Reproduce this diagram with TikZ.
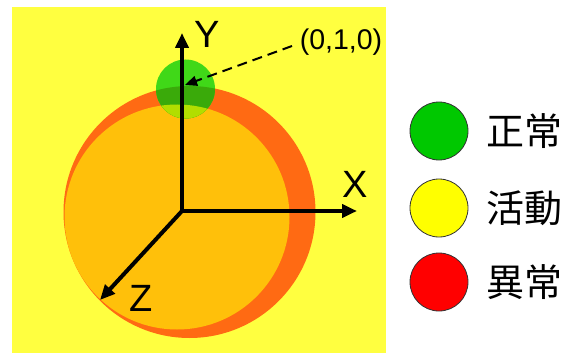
\documentclass[tikz,border=0pt]{standalone}
\usepackage{fontspec}
\setmainfont{Liberation Sans}
\newfontfamily\cjk{Noto Sans CJK JP}
\usetikzlibrary{arrows.meta}
\definecolor{bgyellow}{RGB}{255,255,64}
\definecolor{ringorange}{RGB}{255,106,19}
\definecolor{innerorange}{RGB}{255,192,10}
\definecolor{greenA}{RGB}{64,216,24}
\definecolor{greenB}{RGB}{58,170,10}
\definecolor{greenC}{RGB}{178,222,0}
\definecolor{lgreen}{RGB}{0,200,0}
\definecolor{lyellow}{RGB}{255,255,0}
\definecolor{lred}{RGB}{255,0,0}
\tikzset{
  axis/.style={line width=4pt,-{Triangle[length=15pt,width=13pt]}},
  axlabel/.style={font=\fontsize{38}{38}\selectfont,inner sep=0pt},
  dot/.style={circle,draw=black!80,line width=0.8pt,minimum size=58pt,inner sep=0pt},
  legtext/.style={font=\cjk\fontsize{38}{38}\selectfont,anchor=west,inner sep=0pt},
}
\begin{document}
\begin{tikzpicture}[x=1pt,y=-1pt]
\useasboundingbox (0,0) rectangle (568,353);
\fill[white] (0,0) rectangle (568,353);
\fill[bgyellow] (12,7) rectangle (386,353);
% spheres
\fill[ringorange] (189.5,212) circle[radius=126];
\fill[innerorange] (177,217) circle[radius=112.5];
% green point
\fill[greenA] (185.5,89) circle[radius=29.5];
\begin{scope}
  \clip (189.5,212) circle[radius=126];
  \fill[greenB] (185.5,89) circle[radius=29.5];
\end{scope}
\begin{scope}
  \clip (177,217) circle[radius=112.5];
  \fill[greenC] (185.5,89) circle[radius=29.5];
\end{scope}
% axes
\coordinate (O) at (182,211);
\coordinate (Ytip) at (182,33);
\coordinate (Xtip) at (357,211);
\coordinate (Ztip) at (100,300);
\draw[axis] (O) -- (Ytip);
\draw[axis] (O) -- (Xtip);
\draw[axis] (O) -- (Ztip);
\node[axlabel] (Y) at (207.5,34) {Y};
\node[axlabel] (X) at (355,184) {X};
\node[axlabel] (Z) at (141,298) {Z};
% point label
\node[font=\fontsize{28.5}{28.5}\selectfont,inner sep=0pt] (P) at (341,42) {(0,1,0)};
\coordinate (Pt) at (185,85);
\draw[line width=2pt,dash pattern=on 10pt off 6pt,-{Triangle[length=12pt,width=10pt]}] (292,46) -- (Pt);
% legend
\node[dot,fill=lgreen] (g) at (439,131) {};
\node[dot,fill=lyellow] (yl) at (439,208) {};
\node[dot,fill=lred] (r) at (439,282) {};
\node[legtext] (tg) at (486,131) {正常};
\node[legtext] (ty) at (486,208) {活動};
\node[legtext] (tr) at (486,282) {異常};
\end{tikzpicture}
\end{document}
